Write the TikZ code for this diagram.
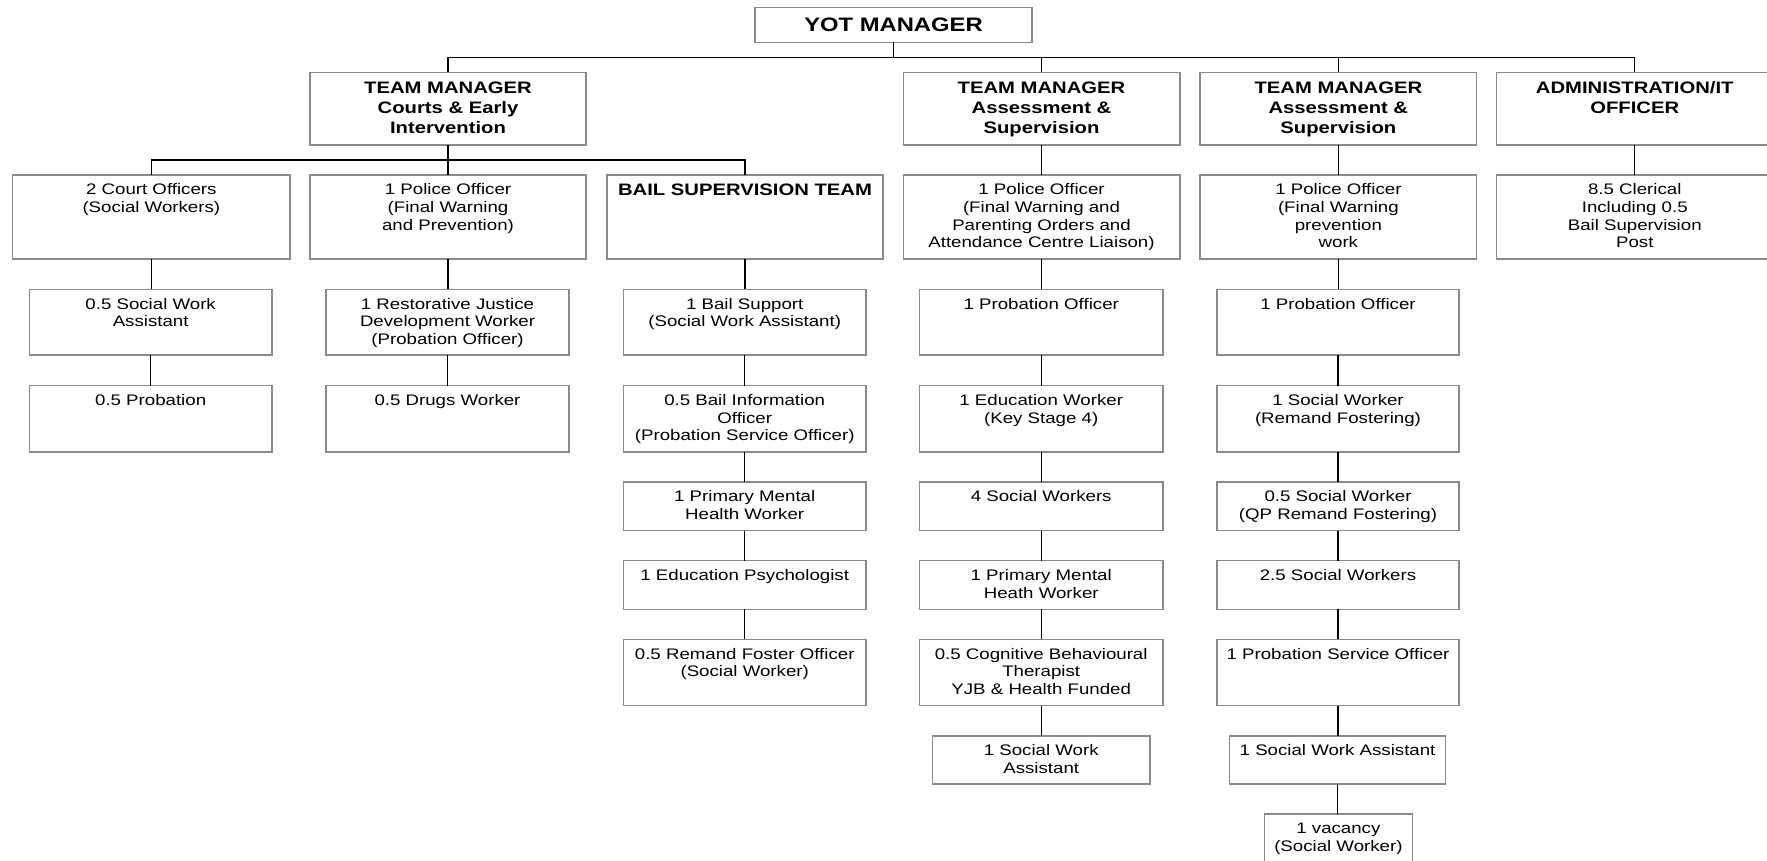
\documentclass[tikz,border=0pt]{standalone}
\usepackage{fontspec}
\setmainfont{Liberation Sans}[FakeStretch=1.22]
\usetikzlibrary{calc}
\definecolor{boxgray}{HTML}{8A8A8A}
\newcommand\regf{\fontsize{15.3}{17.7}\selectfont}
\newcommand\bldf{\fontsize{16.6}{20}\selectfont\bfseries}
\newcommand\yotf{\fontsize{19.5}{23}\selectfont\bfseries}
\tikzset{
  box/.style={draw=boxgray, line width=1.4pt, fill=white, inner sep=0pt, outer sep=0pt},
  txt/.style={align=center, inner sep=0pt, anchor=north, font=\regf, yshift=-7.3pt},
  btxt/.style={align=center, inner sep=0pt, anchor=north, font=\bldf, yshift=-6.6pt},
  conn/.style={draw=black, line width=1.4pt},
}
% [text style]{name}{x1}{y1}{x2}{y2}{text}
\newcommand\bx[7][txt]{%
  \node[box, anchor=north west, minimum width={#5-#3}, minimum height={#6-#4}] (#2) at (#3,#4) {};
  \node[#1] (#2t) at (#2.north) {\strut #7};
}
% vertical link from the bottom of #1 to the top of #2
\newcommand\vlink[2]{\draw[conn] (#1.south) -- (#1.south |- #2.north);}
\begin{document}
\begin{tikzpicture}[x=1pt, y=-1pt]
\useasboundingbox (0,0) rectangle (1767,860);
\coordinate (bus) at (0,57.3);
\coordinate (bus2) at (0,160);

% connectors first (boxes are filled white)
% top
\node[box, anchor=north west, minimum width=277, minimum height=35, font=\yotf] (yot) at (755,7.3) {YOT MANAGER};

\bx[btxt]{tmc}{310}{72.3}{586}{145}{TEAM MANAGER\\Courts \& Early\\Intervention}
\bx[btxt]{tma1}{903.2}{72.3}{1179.8}{145}{TEAM MANAGER\\Assessment \&\\Supervision}
\bx[btxt]{tma2}{1200}{72.3}{1476.7}{145}{TEAM MANAGER\\Assessment \&\\Supervision}
\bx[btxt]{adm}{1496.5}{72.3}{1773}{145}{ADMINISTRATION/IT\\OFFICER}

% row 2
\bx{court}{12.6}{175}{290}{259}{2 Court Officers\\(Social Workers)}
\bx{police1}{310}{175}{586}{259}{1 Police Officer\\(Final Warning\\and Prevention)}
\bx[btxt]{bail}{607}{175}{883}{259}{BAIL SUPERVISION TEAM}
\bx{police2}{903.2}{175}{1179.8}{259}{1 Police Officer\\(Final Warning and\\Parenting Orders and\\Attendance Centre Liaison)}
\bx{police3}{1200}{175}{1476.7}{259}{1 Police Officer\\(Final Warning\\prevention\\work}
\bx{cler}{1496.5}{175}{1773}{259}{8.5 Clerical\\Including 0.5\\Bail Supervision\\Post}

% row 3
\bx{swa}{29.3}{289.3}{272}{355}{0.5 Social Work\\Assistant}
\bx{rj}{326}{289.3}{569}{355}{1 Restorative Justice\\Development Worker\\(Probation Officer)}
\bx{bs}{623.4}{289.3}{866}{355}{1 Bail Support\\(Social Work Assistant)}
\bx{prob1}{919.6}{289.3}{1162.8}{355}{1 Probation Officer}
\bx{prob2}{1217}{289.3}{1459}{355}{1 Probation Officer}

% row 4
\bx{p05}{29.3}{385.7}{272}{452}{0.5 Probation}
\bx{drugs}{326}{385.7}{569}{452}{0.5 Drugs Worker}
\bx{binfo}{623.4}{385.7}{866}{452}{0.5 Bail Information\\Officer\\(Probation Service Officer)}
\bx{edu}{919.6}{385.7}{1162.8}{452}{1 Education Worker\\(Key Stage 4)}
\bx{sw1}{1217}{385.7}{1459}{452}{1 Social Worker\\(Remand Fostering)}

% row 5
\bx{pmhw}{623.4}{482}{866}{530.5}{1 Primary Mental\\Health Worker}
\bx{sw4}{919.6}{482}{1162.8}{530.5}{4 Social Workers}
\bx{sw05}{1217}{482}{1459}{530.5}{0.5 Social Worker\\(QP Remand Fostering)}

% row 6
\bx{edpsy}{623.4}{560.7}{866}{609.3}{1 Education Psychologist}
\bx{pmhw2}{919.6}{560.7}{1162.8}{609.3}{1 Primary Mental\\Heath Worker}
\bx{sw25}{1217}{560.7}{1459}{609.3}{2.5 Social Workers}

% row 7
\bx{remand}{623.4}{639.3}{866}{705.5}{0.5 Remand Foster Officer\\(Social Worker)}
\bx{cbt}{919.6}{639.3}{1162.8}{705.5}{0.5 Cognitive Behavioural\\Therapist\\YJB \& Health Funded}
\bx{pso}{1217}{639.3}{1459}{705.5}{1 Probation Service Officer}

% row 8
\bx{swa1}{932.6}{736}{1149.8}{784}{1 Social Work\\Assistant}
\bx{swa2}{1229.5}{736}{1445.6}{784}{1 Social Work Assistant}

% row 9
\bx{vac}{1264.6}{814}{1412.2}{863}{1 vacancy\\(Social Worker)}

% connectors
\draw[conn] (yot.south) -- (yot.south |- bus);
\draw[conn] (tmc.north) -- (tmc.north |- bus) -- (adm.north |- bus) -- (adm.north);
\draw[conn] (tma1.north) -- (tma1.north |- bus);
\draw[conn] (tma2.north) -- (tma2.north |- bus);

\vlink{tmc}{police1}
\draw[conn] (court.north) -- (court.north |- bus2) -- (bail.north |- bus2) -- (bail.north);

\vlink{court}{swa}
\vlink{swa}{p05}
\vlink{police1}{rj}
\vlink{rj}{drugs}
\vlink{bail}{bs}
\vlink{bs}{binfo}
\vlink{binfo}{pmhw}
\vlink{pmhw}{edpsy}
\vlink{edpsy}{remand}

\vlink{tma1}{police2}
\vlink{police2}{prob1}
\vlink{prob1}{edu}
\vlink{edu}{sw4}
\vlink{sw4}{pmhw2}
\vlink{pmhw2}{cbt}
\vlink{cbt}{swa1}

\vlink{tma2}{police3}
\vlink{police3}{prob2}
\vlink{prob2}{sw1}
\vlink{sw1}{sw05}
\vlink{sw05}{sw25}
\vlink{sw25}{pso}
\vlink{pso}{swa2}
\vlink{swa2}{vac}

\vlink{adm}{cler}
\end{tikzpicture}
\end{document}
